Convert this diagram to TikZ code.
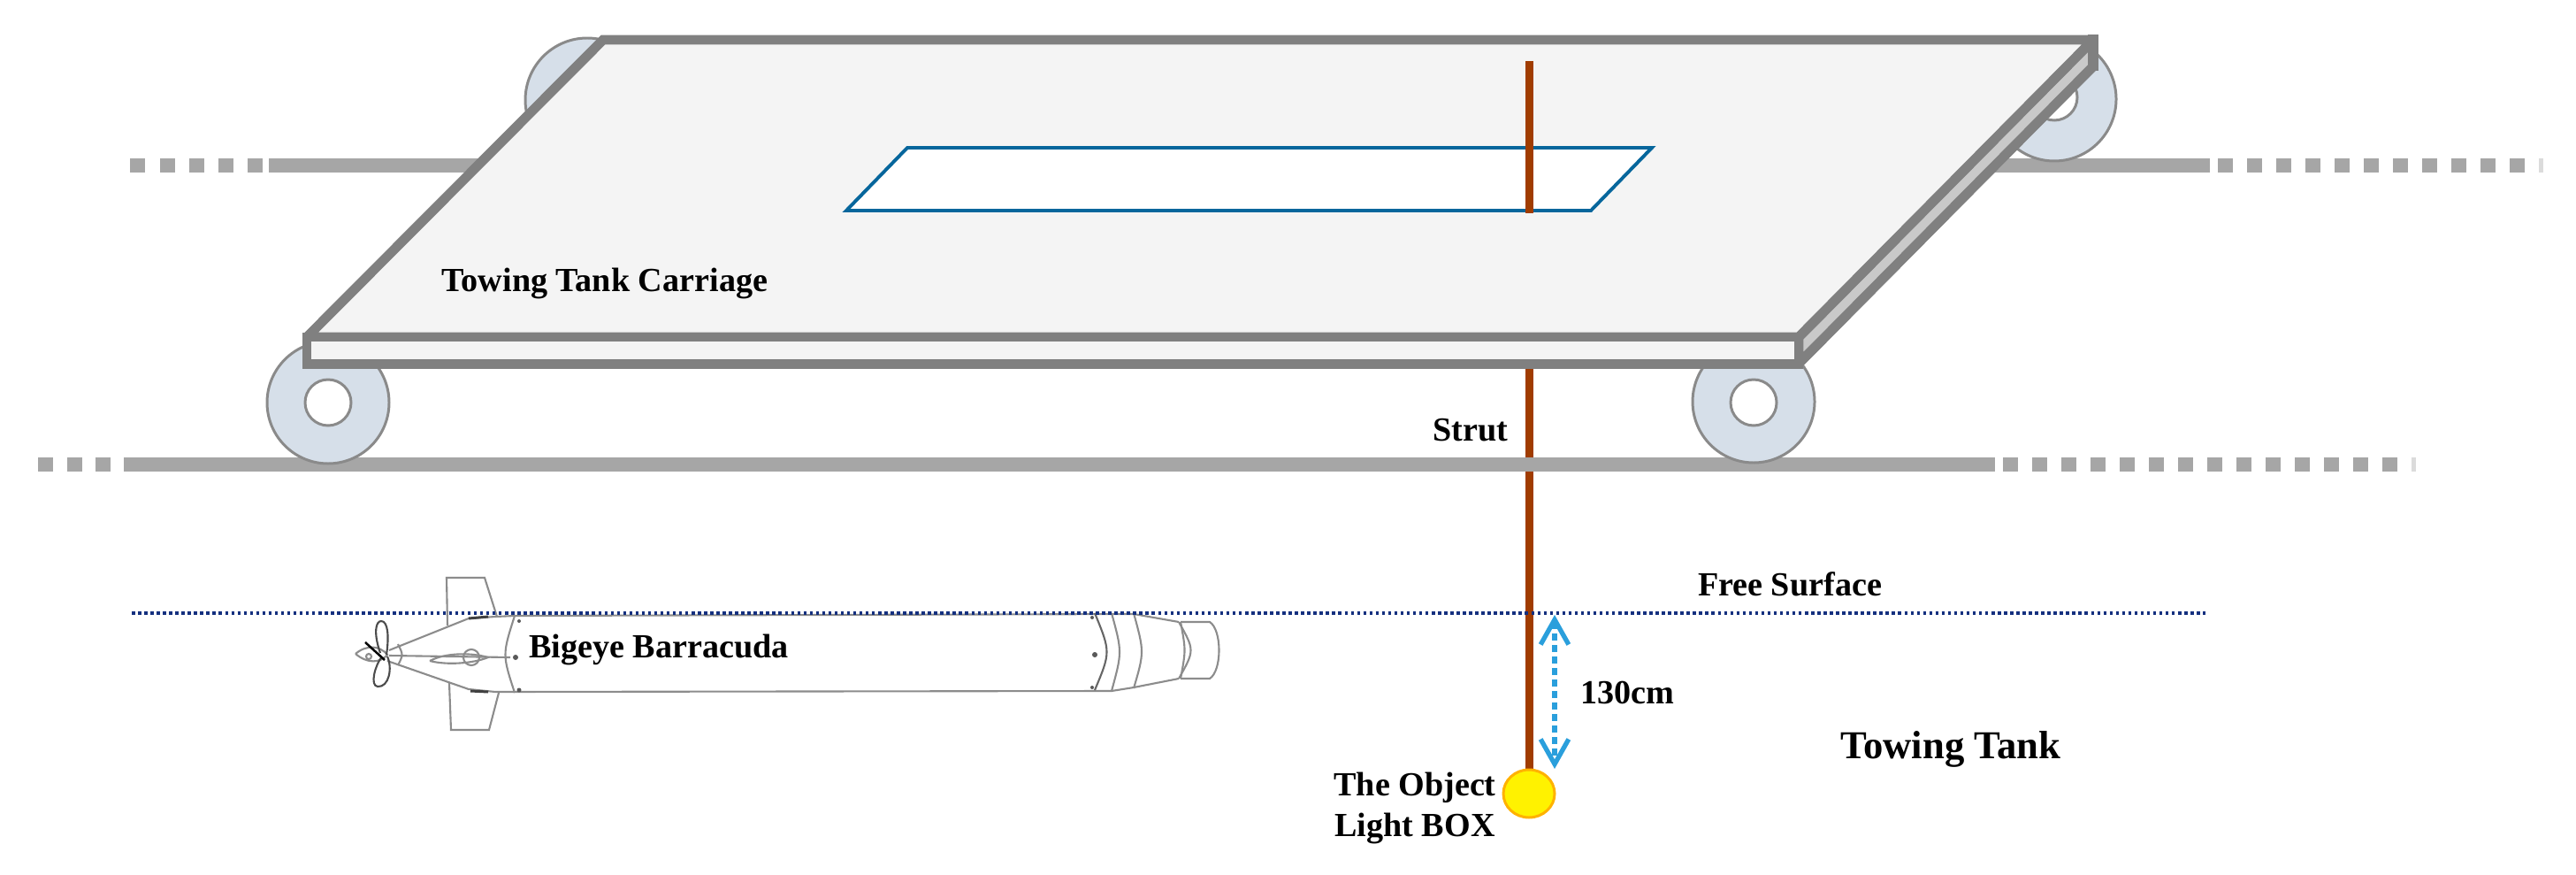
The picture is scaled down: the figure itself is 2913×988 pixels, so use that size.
\documentclass[tikz,border=0pt]{standalone}
\usepackage{fontspec}
\setmainfont{Liberation Serif}
\usetikzlibrary{arrows.meta}
\definecolor{railc}{HTML}{A6A6A6}
\definecolor{bandc}{HTML}{808080}
\definecolor{deckc}{HTML}{F4F4F4}
\definecolor{sidec}{HTML}{C9C9C9}
\definecolor{wheelc}{HTML}{D6DFE9}
\definecolor{wheell}{HTML}{8A8A8A}
\definecolor{winc}{HTML}{06669C}
\definecolor{strutc}{HTML}{A03C00}
\definecolor{surfc}{HTML}{14307F}
\definecolor{arrc}{HTML}{2A9FDC}
\definecolor{subc}{HTML}{8C8C8C}
\tikzset{
  railpiece/.style={fill=railc,draw=none},
  wheelbody/.style={fill=wheelc,draw=wheell,line width=.85pt},
  wheelhole/.style={fill=white,draw=wheell,line width=.85pt},
  band/.style={draw=bandc,line width=3.1pt,miter limit=2,line join=miter},
  strutline/.style={draw=strutc,line width=2.56pt},
  subline/.style={draw=subc,line width=.6pt},
  subdark/.style={draw=black!75,line width=.85pt},
  label/.style={font=\fontsize{10.85}{13}\selectfont\bfseries,inner sep=0pt,anchor=base,text=black},
  biglabel/.style={font=\fontsize{12.7}{15}\selectfont\bfseries,inner sep=0pt,anchor=base,text=black},
}
\begin{document}
\begin{tikzpicture}[x=0.01cm,y=-0.01cm]
\useasboundingbox (0,0) rectangle (2913,988);
\fill[white] (0,0) rectangle (2913,988);
% upper rail
\fill[railpiece] (304,179) rectangle (2499,195);
\foreach \x in {147,181,214,247,280} \fill[railpiece] (\x,179) rectangle +(17,16);
\foreach \x in {2508,2541,2574,2607,2640,2673,2706,2739,2772,2805,2838} \fill[railpiece] (\x,179) rectangle +(17,16);
\fill[railc!40] (2871,179) rectangle (2876,195);
% back wheels
\draw[wheelbody] (664,113) circle (70);
\draw[wheelbody] (2323,112) circle (70);
\draw[wheelhole] (2323,110) circle (26);
% lower strut, passing behind the lower rail
\draw[strutline] (1729,415) -- (1729,872);
% lower rail
\fill[railpiece] (140,517) rectangle (2256,533);
\foreach \x in {43,76,108} \fill[railpiece] (\x,517) rectangle +(17,16);
\foreach \x in {2265,2298,2331,2364,2397,2430,2463,2496,2529,2562,2595,2628,2661,2694} \fill[railpiece] (\x,517) rectangle +(17,16);
\fill[railc!40] (2727,517) rectangle (2732,533);
% front wheels
\draw[wheelbody] (371,455) circle (69);
\draw[wheelhole] (371,455) circle (26);
\draw[wheelbody] (1983,454) circle (69);
\draw[wheelhole] (1983,455) circle (26);
% carriage
\draw[band,fill=sidec] (2367,45) -- (2367,75) -- (2034,411) -- (2034,381) -- cycle;
\draw[band,fill=deckc] (682,45) -- (2367,45) -- (2034,381) -- (347,381) -- cycle;
\fill[bandc] (2361,39.5) rectangle (2372.5,80);
\draw[band,fill=deckc,miter limit=10] (347,381) rectangle (2034,411.5);
% window
\draw[winc,line width=1.1pt,fill=white,line join=miter] (957,238) -- (1026,167) -- (1868,167) -- (1799,238) -- cycle;
% upper strut
\draw[strutline] (1729.5,69) -- (1729.5,241);
% torpedo
\draw[subline] (506,707) -- (505,653) -- (548,653) -- (562,697);
\draw[subline] (508,772) -- (510,825) -- (553,825) -- (564,783);
\draw[subline] (440,735) -- (530,699) -- (560,697) -- (582,696) -- (1282,694) -- (1333,703);
\draw[subline] (438,747) -- (530,779) -- (560,782) -- (1257,781) -- (1282,777) -- (1333,767);
\draw[subline] (582,696) .. controls (568,740) .. (582,783);
\draw[subline] (450,728) .. controls (456,740) .. (450,752);
\draw[subdark] (530,699) -- (552,697);
\draw[subdark] (532,781) -- (552,782);
\draw[subline] (440,741) -- (577,743);
\draw[subline] (486,747) .. controls (505,737) and (535,738) .. (552,743) .. controls (535,750) and (505,752) .. (486,747);
\draw[subline] (533,743) circle (9);
\draw[subline] (402,739) .. controls (415,728) and (430,730) .. (438,740) .. controls (430,750) and (415,750) .. (402,739);
\draw[subline] (417,742) circle (3);
\draw[subline,draw=black!70] (430,738) .. controls (422,715) and (425,702) .. (431,702) .. controls (439,702) and (440,720) .. (437,740);
\draw[subline,draw=black!70] (432,742) .. controls (424,752) and (418,775) .. (427,776) .. controls (440,777) and (444,755) .. (438,742);
\draw[black,line width=.7pt] (413,726) -- (435,746);
\foreach \p/\r in {{587,702}/2,{583,743}/3,{587,780}/2.5,{1238,740}/3,{1235,698}/2,{1235,777}/2}
  \fill[black!65] (\p) circle (\r);
\draw[subline,draw=black!60] (1238,693) .. controls (1256,737) .. (1238,780);
\draw[subline] (1257,693) .. controls (1269,737) .. (1257,781);
\draw[subline] (1282,693) .. controls (1294,737) .. (1282,778);
\draw[subline] (1333,703) .. controls (1351,735) .. (1333,767);
\draw[subline] (1335,703) .. controls (1341,735) .. (1335,767);
\draw[subline] (1335,703) -- (1368,703) .. controls (1382,712) and (1382,758) .. (1368,767) -- (1335,767);
% free surface
\coordinate (fsL) at (149,693);
\coordinate (fsR) at (2494,693);
\draw[surfc,line width=1.1pt,dash pattern=on 1pt off 1pt] (fsL) -- (fsR);
% light box
\draw[fill=yellow,draw=orange!60!yellow,line width=.85pt] (1729,897) ellipse (29 and 27);
% depth arrow
\coordinate (dTop) at (1758,695);
\coordinate (dBot) at (1758,869);
\draw[arrc,line width=1.5pt,dash pattern=on 2.3pt off 1.4pt,{Straight Barb[length=8pt,width=9pt]}-{Straight Barb[length=8pt,width=9pt]}] (dTop) -- (dBot);
% labels
\node[label] (carriage) at (684,329) {Towing Tank Carriage};
\node[label] (strut) at (1663,498) {Strut};
\node[label] (free) at (2024,673) {Free Surface};
\node[label] (barracuda) at (745,743) {Bigeye Barracuda};
\node[label] (depth) at (1840,795) {130cm};
\node[biglabel] (tank) at (2206,857) {Towing Tank};
\node[label] (obj) at (1600,899) {The Object};
\node[label] (lbox) at (1600,945) {Light BOX};
\end{tikzpicture}
\end{document}
